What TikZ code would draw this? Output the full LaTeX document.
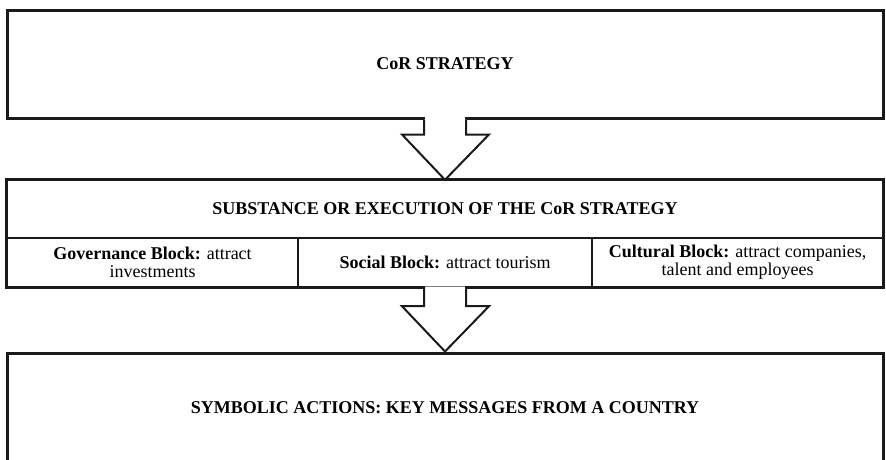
\documentclass[tikz,border=0pt]{standalone}
\usepackage{fontspec}
\setmainfont{Liberation Serif}
\usetikzlibrary{calc}
\definecolor{ink}{HTML}{1A1A1A}
\tikzset{
  x=1pt, y=-1pt,
  txt/.style={font=\fontsize{18pt}{18pt}\selectfont, align=center, inner sep=0pt, text=black},
  outline/.style={draw=ink, line width=3pt},
  divider/.style={draw=ink, line width=2pt},
  blockarrow/.style={draw=ink, line width=2pt, line join=miter, fill=white},
}
\begin{document}
\begin{tikzpicture}
\useasboundingbox (0,0) rectangle (886,459);
\clip (0,0) rectangle (886,459);

% strategy box
\node[txt, outline, minimum width=876pt, minimum height=108pt] (top) at (445,64) {\textbf{CoR STRATEGY}};

% execution box: heading row and three blocks
\node[txt, minimum width=876pt, minimum height=58pt] (mid) at (445,209) {\textbf{SUBSTANCE OR EXECUTION OF THE CoR STRATEGY}};
\node[txt, minimum width=291pt, minimum height=49pt] (gov) at (152.5,262.5) {\textbf{Governance Block:} attract\\investments};
\node[txt, minimum width=294pt, minimum height=49pt] (soc) at (445,262.5) {\textbf{Social Block:} attract tourism};
\node[txt, minimum width=291pt, minimum height=49pt] (cul) at (737.5,262.5) {\textbf{Cultural Block:} attract companies,\\talent and employees};
\draw[divider] (mid.south west) -- (mid.south east);
\draw[divider] (gov.north east) -- (gov.south east);
\draw[divider] (soc.north east) -- (soc.south east);
\draw[outline] (mid.north west) rectangle (cul.south east);

% symbolic actions box
\node[txt, outline, minimum width=876pt, minimum height=109pt] (bot) at (445,407.5) {\textbf{SYMBOLIC ACTIONS: KEY MESSAGES FROM A COUNTRY}};

% block arrow from strategy to execution
\fill[white] ($(top.south)+(-20,-2.5)$) rectangle ($(top.south)+(20,2)$);
\draw[blockarrow] ($(top.south)+(-21,0)$) -- ++(0,15) -- ++(-22,0) -- (mid.north)
  -- ($(top.south)+(44,15)$) -- ++(-23,0) -- ++(0,-15);

% block arrow from execution to symbolic actions
\fill[white] ($(soc.south)+(-20,-2)$) rectangle ($(soc.south)+(20,2)$);
\draw[gray, line width=1.5pt] ($(soc.south)+(-20,0)$) -- ($(soc.south)+(20,0)$);
\draw[blockarrow] ($(soc.south)+(-21,0)$) -- ++(0,19) -- ++(-22,0) -- (bot.north)
  -- ($(soc.south)+(44,19)$) -- ++(-23,0) -- ++(0,-19);
\end{tikzpicture}
\end{document}
